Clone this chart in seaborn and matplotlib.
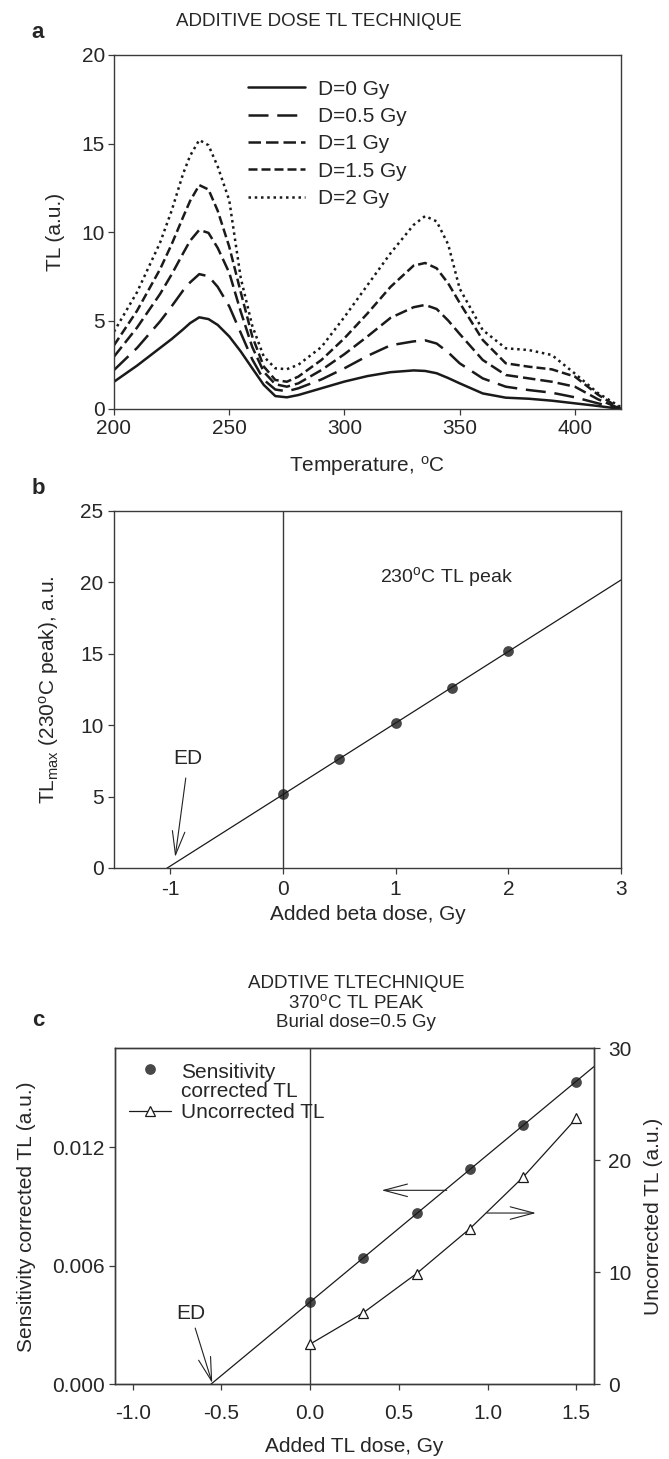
import numpy as np
import pandas as pd
import seaborn as sns
import matplotlib.pyplot as plt
from matplotlib.ticker import FormatStrFormatter

# ---- panel a: glow curves ----
temps = [200, 210, 220, 225, 230, 233, 237, 241, 245, 250, 255, 260, 265, 270, 275, 280, 290, 300,
         310, 320, 330, 335, 340, 345, 350, 360, 370, 380, 390, 400, 410, 420]
tl_d0 = [1.54, 2.45, 3.45, 3.95, 4.5, 4.85, 5.18, 5.08, 4.75, 4.1, 3.25, 2.3, 1.36, 0.73, 0.66, 0.79,
         1.17, 1.55, 1.86, 2.08, 2.18, 2.15, 2.02, 1.75, 1.45, 0.88, 0.64, 0.58, 0.47, 0.32, 0.17, 0.0]
tl_d05 = [2.2, 3.45, 4.95, 5.8, 6.7, 7.15, 7.62, 7.5, 6.9, 5.8, 4.3, 2.8, 1.65, 1.1, 1.0, 1.17,
          1.67, 2.3, 3.0, 3.6, 3.82, 3.88, 3.7, 3.2, 2.58, 1.73, 1.26, 1.07, 0.92, 0.66, 0.32, 0.0]
tl_d1 = [2.96, 4.6, 6.5, 7.6, 8.8, 9.5, 10.12, 9.95, 9.1, 7.7, 5.5, 3.5, 2.1, 1.4, 1.26, 1.45,
         2.2, 3.1, 4.1, 5.15, 5.75, 5.88, 5.65, 5.0, 4.24, 2.77, 1.92, 1.73, 1.54, 1.26, 0.55, 0.0]
tl_d15 = [3.6, 5.55, 7.9, 9.3, 10.85, 11.75, 12.65, 12.4, 11.2, 9.17, 6.6, 4.1, 2.4, 1.64, 1.54, 1.83,
          2.77, 4.0, 5.4, 6.9, 8.1, 8.25, 7.95, 7.1, 6.0, 3.9, 2.58, 2.39, 2.24, 1.83, 0.81, 0.0]
tl_d2 = [4.37, 6.6, 9.4, 11.2, 13.3, 14.3, 15.2, 14.9, 13.7, 11.8, 7.4, 4.7, 2.96, 2.3, 2.25, 2.5,
         3.5, 5.2, 7.0, 8.8, 10.4, 10.9, 10.6, 9.3, 6.8, 4.46, 3.43, 3.33, 3.05, 2.0, 0.9, 0.1]
dose_labels = ['D=0 Gy', 'D=0.5 Gy', 'D=1 Gy', 'D=1.5 Gy', 'D=2 Gy']

# ---- panel b: 230C peak maxima ----
dose_b = [0, 0.5, 1, 1.5, 2]
tlmax_b = [5.16, 7.65, 10.14, 12.63, 15.19]

# ---- panel c: 370C peak ----
dose_c = [0, 0.3, 0.6, 0.9, 1.2, 1.5]
corr_c = [0.00415, 0.0064, 0.00866, 0.0109, 0.01312, 0.0153]
uncorr_c = [3.6, 6.4, 9.9, 13.9, 18.5, 23.75]

sns.set_style('ticks')
plt.rcParams['font.family'] = ['Liberation Sans', 'DejaVu Sans']
plt.rcParams['mathtext.fontset'] = 'custom'
plt.rcParams['mathtext.rm'] = 'Liberation Sans'
plt.rcParams['mathtext.it'] = 'Liberation Sans:italic'
plt.rcParams['axes.unicode_minus'] = False

FS = 15
EDGE = '#3a3a3a'
INK = '#1a1a1a'

fig = plt.figure(figsize=(6.69, 14.59), dpi=100)
W, H = 669, 1459


def box(ax, xpad, ypad):
    for s in ax.spines.values():
        s.set_visible(True)
        s.set_color(EDGE)
        s.set_linewidth(1.0)
    ax.tick_params(labelsize=FS, length=4, width=0.9, color=EDGE)
    ax.tick_params(axis='x', pad=xpad)
    ax.tick_params(axis='y', pad=ypad)


arrow = dict(arrowstyle='->,head_length=1.7,head_width=0.45', lw=0.8, color='#222222',
             shrinkA=0, shrinkB=0, mutation_scale=10)

# ---------------- panel a ----------------
ax_a = fig.add_axes([114 / W, 1 - 409 / H, 507 / W, 354 / H])
styles = ['-', (0, (8, 3.5)), (0, (5, 2)), (0, (3.6, 1.6)), (0, (1, 1.5))]
for vals, lab, ls in zip([tl_d0, tl_d05, tl_d1, tl_d15, tl_d2], dose_labels, styles):
    sns.lineplot(x=temps, y=vals, ax=ax_a, color=INK, lw=1.8, linestyle=ls, label=lab)
ax_a.set_xlim(200, 420)
ax_a.set_ylim(0, 20)
ax_a.set_xticks([200, 250, 300, 350, 400])
ax_a.set_yticks([0, 5, 10, 15, 20])
ax_a.set_xlabel(r'Temperature, $^{\rm o}$C', fontsize=FS)
ax_a.set_ylabel('TL (a.u.)', fontsize=FS)
ax_a.xaxis.set_label_coords(0.5, -0.127)
ax_a.yaxis.set_label_coords(-0.097, 0.5)
ax_a.legend(loc='upper left', bbox_to_anchor=(0.264, 0.93), frameon=False, borderpad=0,
            borderaxespad=0, handlelength=2.75, handletextpad=0.63, labelspacing=0.4,
            fontsize=FS)
box(ax_a, 3, 2.5)

# ---------------- panel b ----------------
ax_b = fig.add_axes([114 / W, 1 - 868 / H, 507 / W, 357 / H])
ax_b.set_xlim(-1.5, 3)
ax_b.axvline(0, color=EDGE, lw=1.0)
sns.regplot(x=dose_b, y=tlmax_b, ax=ax_b, ci=None, truncate=False, color=INK,
            scatter_kws={'s': 60, 'zorder': 3, 'linewidths': 0},
            line_kws={'lw': 0.9})
ax_b.set_xlim(-1.5, 3)
ax_b.set_ylim(0, 25)
ax_b.set_xticks([-1, 0, 1, 2, 3])
ax_b.set_yticks([0, 5, 10, 15, 20, 25])
ax_b.set_xlabel('Added beta dose, Gy', fontsize=FS)
ax_b.set_ylabel(r'TL$_{\rm max}$ (230$^{\rm o}$C peak), a.u.', fontsize=FS)
ax_b.xaxis.set_label_coords(0.5, -0.103)
ax_b.yaxis.set_label_coords(-0.105, 0.5)
ax_b.text(0.86, 20.4, r'230$^{\rm o}$C TL peak', fontsize=14, va='center')
ax_b.text(-0.842, 7.7, 'ED', fontsize=FS, ha='center', va='center')
ax_b.annotate('', xy=(-0.957, 0.77), xytext=(-0.863, 6.3), arrowprops=arrow)
box(ax_b, 5, 3.5)

# ---------------- panel c ----------------
ax_c = fig.add_axes([115 / W, 1 - 1384.4 / H, 479 / W, 336 / H])
ax_c.set_xlim(-1.1, 1.6)
ax_c.axvline(0, color=EDGE, lw=1.0)
sns.regplot(x=dose_c, y=corr_c, ax=ax_c, ci=None, truncate=False, color=INK,
            label='Sensitivity\ncorrected TL',
            scatter_kws={'s': 60, 'zorder': 3, 'linewidths': 0},
            line_kws={'lw': 0.9})
ax_c.set_xlim(-1.1, 1.6)
ax_c.set_ylim(0, 0.017)
ax_c.set_xticks([-1.0, -0.5, 0.0, 0.5, 1.0, 1.5])
ax_c.set_yticks([0, 0.006, 0.012])
ax_c.xaxis.set_major_formatter(FormatStrFormatter('%.1f'))
ax_c.yaxis.set_major_formatter(FormatStrFormatter('%.3f'))
ax_c.set_xlabel('Added TL dose, Gy', fontsize=FS)
ax_c.set_ylabel('Sensitivity corrected TL (a.u.)', fontsize=FS)
ax_c.xaxis.set_label_coords(0.5, -0.157)
ax_c.yaxis.set_label_coords(-0.165, 0.5)
ax_c.text(-0.67, 0.0036, 'ED', fontsize=FS, ha='center', va='center')
ax_c.annotate('', xy=(-0.552, 0.00007), xytext=(-0.648, 0.00285), arrowprops=arrow)
ax_c.annotate('', xy=(0.403, 0.00982), xytext=(0.77, 0.00982), arrowprops=arrow)
box(ax_c, 10, 3.6)

ax_c2 = ax_c.twinx()
sns.lineplot(x=dose_c, y=uncorr_c, ax=ax_c2, color=INK, lw=0.9, marker='^',
             markersize=7, markerfacecolor='white', markeredgecolor=INK,
             markeredgewidth=0.9, label='Uncorrected TL')
ax_c2.set_ylim(0, 30)
ax_c2.set_yticks([0, 10, 20, 30])
ax_c2.set_ylabel('Uncorrected TL (a.u.)', fontsize=FS)
ax_c2.yaxis.set_label_coords(1.104, 0.5)
ax_c2.annotate('', xy=(1.273, 15.3), xytext=(0.996, 15.3), arrowprops=arrow)
box(ax_c2, 10, 6)
h1, l1 = ax_c.get_legend_handles_labels()
h2, l2 = ax_c2.get_legend_handles_labels()
leg = ax_c2.legend(h1 + h2, l1 + l2, loc='upper left', bbox_to_anchor=(0.029, 0.958),
                   frameon=False, borderpad=0, borderaxespad=0, handlelength=2.0,
                   handletextpad=0.48, labelspacing=0.1, fontsize=FS, scatterpoints=1,
                   scatteryoffsets=[1.4])
for t in leg.get_texts():
    t.set_linespacing(1.05)

# ---------------- titles and panel letters ----------------
fig.text(319 / W, 1 - 22 / H, 'ADDITIVE DOSE TL TECHNIQUE', fontsize=13.5,
         ha='center', va='center')
fig.text(356 / W, 1 - 1003 / H, 'ADDTIVE TLTECHNIQUE\n370$^{\\rm o}$C TL PEAK\nBurial dose=0.5 Gy',
         fontsize=13.5, ha='center', va='center', linespacing=1.15)
for letter, y in [('a', 33), ('b', 488), ('c', 1020)]:
    fig.text(38 / W, 1 - y / H, letter, fontsize=16, fontweight='bold',
             ha='center', va='center')

fig.savefig('out.png', dpi=100)
